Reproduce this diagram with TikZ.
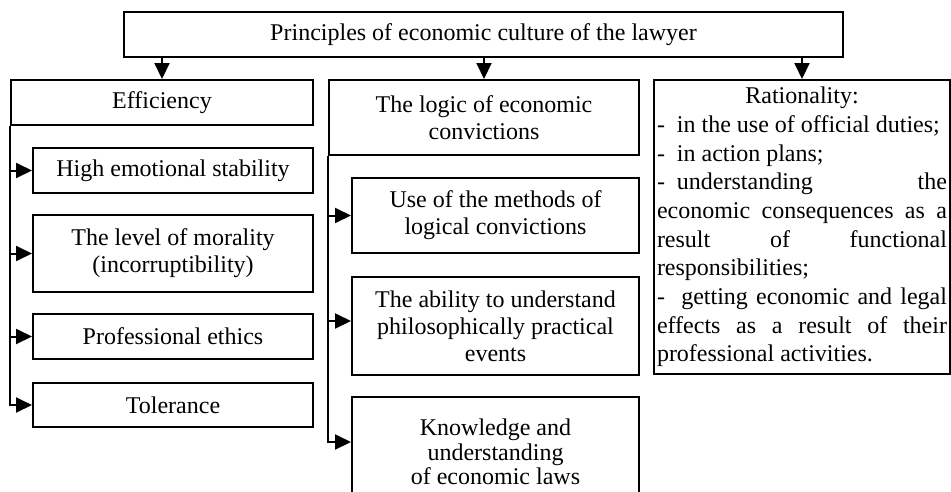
\documentclass[tikz,border=0pt]{standalone}
\usepackage{fontspec}
\setmainfont{Liberation Serif}
\usetikzlibrary{arrows.meta}
\begin{document}
\begin{tikzpicture}[x=1pt,y=-1pt,
  box/.style={draw,line width=2pt,align=center,inner sep=0pt,
    font=\fontsize{24}{27}\selectfont},
  link/.style={line width=2pt,-{Triangle[length=16pt,width=15pt]}},
]
\useasboundingbox (0,0) rectangle (951,491);

% root
\node[box,minimum width=719pt,minimum height=45pt] (root) at (483.5,34.5)
  {Principles of economic culture of the lawyer};

% column 1
\node[box,minimum width=302pt,minimum height=45pt] (eff) at (162,102.5) {Efficiency};
\node[box,minimum width=280pt,minimum height=45pt] (hes) at (173,170.5) {High emotional stability};
\node[box,minimum width=280pt,minimum height=77pt] (lom) at (173,253.5)
  {The level of morality\\(incorruptibility)};
\node[box,minimum width=280pt,minimum height=45pt] (pe) at (173,336.5) {Professional ethics};
\node[box,minimum width=280pt,minimum height=44pt] (tol) at (173,405) {Tolerance};

% column 2
\node[box,minimum width=310pt,minimum height=75pt] (logic) at (484,117.5)
  {The logic of economic\\convictions};
\node[box,minimum width=287pt,minimum height=75pt] (use) at (495.5,215.5)
  {Use of the methods of\\logical convictions};
\node[box,minimum width=287pt,minimum height=98pt] (abil) at (495.5,326)
  {The ability to understand\\philosophically practical\\events};
\node[box,minimum width=287pt,minimum height=110pt,
  font=\fontsize{24}{24.5}\selectfont] (know) at (495.5,452)
  {Knowledge and\\understanding\\of economic laws};

% column 3
\node[box,minimum width=296pt,minimum height=294pt,text width=290pt,
  align=justify,inner xsep=3pt,font=\fontsize{24}{28.7}\selectfont] (rat) at (802,227)
  {\centerline{Rationality:}
  -\ \ in the use of official duties;\\
  -\ \ in action plans;\\
  -\ \ understanding\hfill the\\
  economic consequences as a\linebreak
  result of functional\linebreak
  responsibilities;\\
  -\ \ getting economic and legal\linebreak
  effects as a result of their\linebreak
  professional activities.};

% root to columns
\draw[link] (root.south -| eff.north) -- (eff.north);
\draw[link] (root.south -| logic.north) -- (logic.north);
\draw[link] (root.south -| rat.north) -- (rat.north);

% column 1 branches
\draw[link] (eff.south west) |- (tol.west);
\draw[link] (eff.south west |- hes.west) -- (hes.west);
\draw[link] (eff.south west |- lom.west) -- (lom.west);
\draw[link] (eff.south west |- pe.west) -- (pe.west);

% column 2 branches
\coordinate (abilIn) at ([yshift=5pt]abil.west);
\coordinate (knowIn) at ([yshift=10pt]know.west);
\draw[link] (logic.south west) |- (knowIn);
\draw[link] (logic.south west |- use.west) -- (use.west);
\draw[link] (logic.south west |- abilIn) -- (abilIn);
\end{tikzpicture}
\end{document}
